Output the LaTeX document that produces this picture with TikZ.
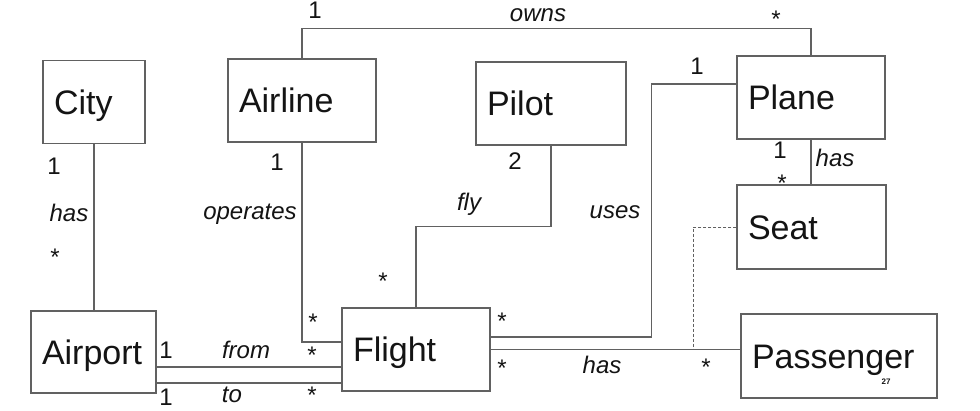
\documentclass[tikz,border=0pt]{standalone}
\usepackage{fontspec}
\setmainfont{Liberation Sans}
\definecolor{linegray}{HTML}{616161}
\definecolor{textblack}{HTML}{141414}
\begin{document}
\begin{tikzpicture}[
    x = 1pt,
    y = -1pt,
    cls/.style = {draw=linegray, line width=1.3pt, fill=white, text=textblack,
              font=\fontsize{34}{36}\selectfont, inner xsep=11pt, inner ysep=0pt,
              text height=24.3pt, text depth=0pt,
              align=left, minimum height=83pt},
    assoc/.style = {draw=linegray, line width=1.3pt},
    mult/.style = {text=textblack, font=\fontsize{24}{26}\selectfont, inner sep=0pt},
    role/.style = {mult, font=\fontsize{24}{26}\selectfont\itshape},
    ]

\useasboundingbox [fill=white] (0,0) rectangle (980,410);

\node[cls, text width=80pt] (city) at (94,102){City};
\node[cls, text width=126pt] (airline) at (302,100.5){Airline};
\node[cls, text width=128pt] (pilot) at (551,103.5){Pilot};
\node[cls, text width=126pt] (plane) at (811,97.5){Plane};
\node[cls, text width=127pt, minimum height=84pt] (seat) at (811.5,227){Seat};
\node[cls, text width=103pt, minimum height=82pt] (airport) at (93.5,352){Airport};
\node[cls, text width=126pt] (flight) at (416,349.5){Flight};
\node[cls, text width=174pt, minimum height=84pt] (passenger) at (839,356){Passenger};

\coordinate (seat_link) at (693,349.5);

\draw [assoc] (city.south) -- (city.south |- airport.north);
\draw [assoc] (airline.north) -- ++(0,-30) -| (plane.north);
\draw [assoc] (airline.south) |- ([yshift=7.5pt]flight.west);
\draw [assoc] (pilot.south) -- ++(0,81) -| (flight.north);
\draw [assoc] ([yshift=13.5pt]plane.west) -- ++(-85,0) |- ([yshift=12.5pt]flight.east);
\draw [assoc] (plane.south) -- (plane.south |- seat.north);
\draw [assoc] (flight.east) -- (flight.east -| passenger.west);
\draw [assoc, line width=1pt, dash pattern=on 3pt off 2pt] (seat.west) -| (seat_link);
\draw [assoc] ([yshift=-15pt]airport.east) -- ([yshift=-15pt]airport.east -| flight.west);
\draw [assoc] ([yshift=-31pt]airport.east) -- ([yshift=-31pt]airport.east -| flight.west);

\node[mult] (mult_city) at (54,166){1};
\node[role] (role_city) at (69,213){has};
\node[mult] (star_airport) at (55,257){*};

\node[mult] (mult_owns) at (315,10){1};
\node[role] (role_owns) at (538,15){owns};
\node[mult] (star_owns) at (776,19){*};

\node[mult] (mult_ops) at (277,162){1};
\node[role] (role_ops) at (250,214){operates};
\node[mult] (star_ops) at (313,322){*};

\node[mult] (mult_fly) at (515,161){2};
\node[role] (role_fly) at (469,204){fly};
\node[mult] (star_fly) at (383,281){*};

\node[mult] (mult_uses) at (697,66){1};
\node[role] (role_uses) at (615,212){uses};
\node[mult] (star_uses) at (502,321){*};

\node[mult] (mult_seat) at (780,150){1};
\node[role] (role_seat) at (835,158){has};
\node[mult] (star_seat) at (782,183){*};

\node[mult] (star_flight_pass) at (502,368){*};
\node[role] (role_pass) at (602,365){has};
\node[mult] (star_pass) at (706,367){*};

\node[mult] (mult_from) at (166,350){1};
\node[role] (role_from) at (246,350){from};
\node[mult] (star_from) at (312,355){*};

\node[mult] (mult_to) at (166,397){1};
\node[role] (role_to) at (232,395){to};
\node[mult] (star_to) at (312,395){*};

\node[mult, font=\fontsize{8}{9}\selectfont\bfseries] (page_no) at (886,382){27};

\end{tikzpicture}
\end{document}
